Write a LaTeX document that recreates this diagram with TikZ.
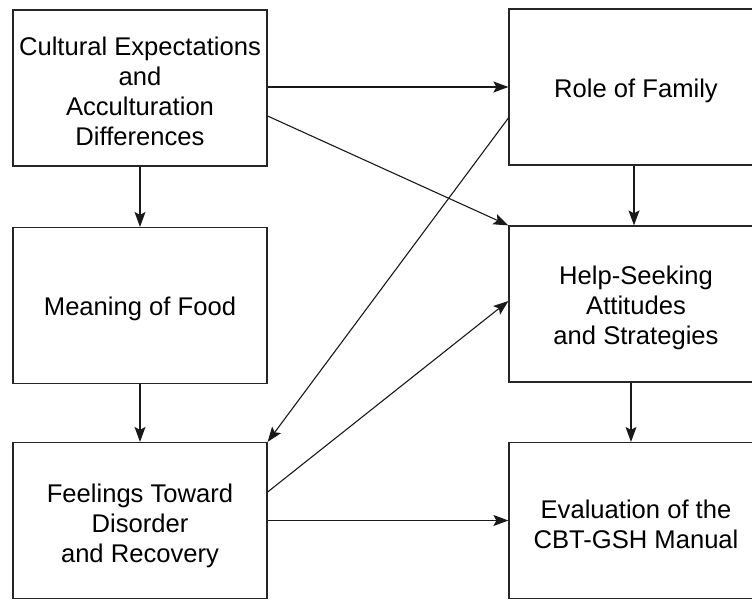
\documentclass[tikz,border=0pt]{standalone}
\usepackage{fontspec}
\setmainfont{Liberation Sans}
\usepackage{tikz}
\usetikzlibrary{arrows.meta}
\newcommand{\lift}{\rule{0pt}{26pt}}
\tikzset{
    theme-box/.style = {draw=black!85, line width=1.2pt, rectangle, minimum width=254pt, minimum height=156pt, inner sep=0pt, align=center, font=\fontsize{25.6}{30}\selectfont},
    link-arrow/.style = {draw=black!90, line width=1.1pt, -{Stealth[length=15pt, width=11pt, inset=3pt]}},
}

\begin{document}
\begin{tikzpicture}[x=1pt, y=-1pt]
\useasboundingbox (0,0) rectangle (752,600);
\node [theme-box] (culture) at (140,88) {\lift Cultural Expectations\\and\\Acculturation\\Differences};
\node [theme-box] (food) at (140,305.5) {\lift Meaning of Food};
\node [theme-box] (feelings) at (140,520.5) {\rule{0pt}{30pt}Feelings Toward\\Disorder\\and Recovery};
\node [theme-box] (family) at (636,87) {\lift Role of Family};
\node [theme-box] (helpseek) at (636,304) {\lift Help-Seeking\\Attitudes\\and Strategies};
\node [theme-box] (manual) at (636,520.5) {\lift Evaluation of the\\CBT-GSH Manual};

\draw [link-arrow] (culture.east |- family.west) -- (family.west);
\draw [link-arrow] ([yshift=-28pt]culture.east) -- (helpseek.north west);
\draw [link-arrow] ([yshift=-31pt]family.west) -- (feelings.north east);
\draw [link-arrow] ([yshift=28.5pt]feelings.east) -- ([yshift=3pt]helpseek.west);
\draw [link-arrow] (feelings.east) -- (manual.west);
\draw [link-arrow] (culture.south) -- (food.north);
\draw [link-arrow] (food.south) -- (feelings.north);
\draw [link-arrow] ([xshift=-2pt]family.south) -- ([xshift=-2pt]helpseek.north);
\draw [link-arrow] ([xshift=-5pt]helpseek.south) -- ([xshift=-5pt]manual.north);
\end{tikzpicture}
\end{document}
